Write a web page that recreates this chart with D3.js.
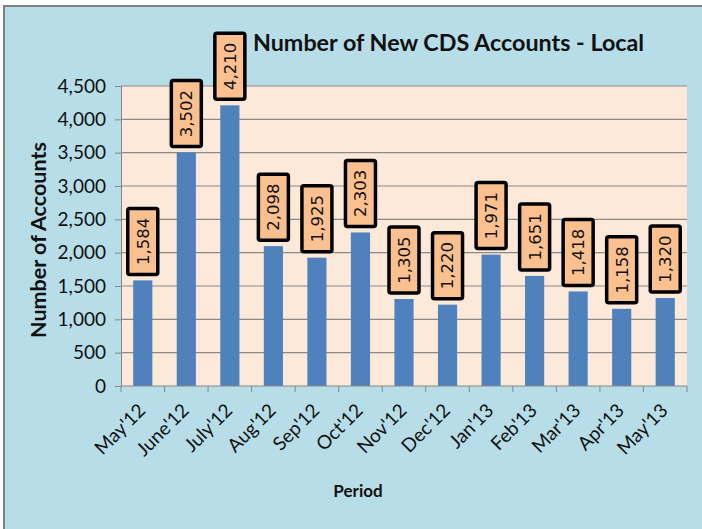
<!DOCTYPE html>
<html>
<head>
<meta charset="utf-8">
<style>
    body { margin: 0; background: #fff; }
    svg { display: block; }
    .chart text { font-family: Lato, 'Open Sans', sans-serif; fill: #111; }
    .title { font-weight: bold; font-size: 23.3px; }
    .axis-title { font-weight: bold; font-size: 17px; }
    .ylab { font-size: 21.5px; }
    .tick-label { font-size: 19px; }
    .val { font-family: 'DejaVu Sans', Verdana, sans-serif !important; font-size: 16.5px; }
</style>
</head>
<body>
<svg class="chart" width="702" height="529"></svg>

<script src="https://d3js.org/d3.v7.min.js"></script>
<script>
    // data
    let periods = ["May'12", "June'12", "July'12", "Aug'12", "Sep'12", "Oct'12", "Nov'12",
                   "Dec'12", "Jan'13", "Feb'13", "Mar'13", "Apr'13", "May'13"];
    let accounts = [1584, 3502, 4210, 2098, 1925, 2303, 1305, 1220, 1971, 1651, 1418, 1158, 1320];
    let yTicks = [0, 500, 1000, 1500, 2000, 2500, 3000, 3500, 4000, 4500];

    let svg = d3.select("svg");

    // outer frame
    svg.append("rect")
        .attr("x", 4).attr("y", 6)
        .attr("width", 702).attr("height", 530)
        .style("fill", "#b7dde8")
        .style("stroke", "#808080")
        .style("stroke-width", 2);

    let plot = { left: 121, right: 687, top: 86, bottom: 386 };

    let x = d3.scaleBand()
        .domain(periods)
        .range([plot.left, plot.right])
        .paddingInner(0.56)
        .paddingOuter(0.28);

    let xSlots = d3.scaleBand()
        .domain(periods)
        .range([plot.left, plot.right]);

    let y = d3.scaleLinear()
        .domain([0, 4500])
        .range([plot.bottom, plot.top]);

    // plot background
    svg.append("rect")
        .attr("x", plot.left).attr("y", plot.top)
        .attr("width", plot.right - plot.left)
        .attr("height", plot.bottom - plot.top)
        .style("fill", "#fde9d9");

    // y ticks
    let yAxis = d3.axisLeft(y)
        .tickValues(yTicks)
        .tickSize(6)
        .tickPadding(9)
        .tickFormat(d3.format(","));

    let gy = svg.append("g")
        .attr("transform", "translate(" + plot.left + ",0)")
        .call(yAxis);
    gy.select(".domain").style("stroke", "#868686");
    gy.selectAll(".tick line").style("stroke", "#868686");
    gy.selectAll(".tick text")
        .style("font-family", "Lato, sans-serif")
        .style("font-size", "19px")
        .style("fill", "#111");

    // gridlines
    svg.append("g")
        .selectAll("line")
        .data(yTicks.filter(d => d > 0))
        .join("line")
        .attr("x1", plot.left).attr("x2", plot.right)
        .attr("y1", d => y(d)).attr("y2", d => y(d))
        .style("stroke", "#8a8a8a")
        .style("stroke-width", 1.2);

    // bars
    svg.append("g")
        .selectAll("rect")
        .data(accounts)
        .join("rect")
        .attr("x", (d, i) => x(periods[i]))
        .attr("width", x.bandwidth())
        .attr("y", d => y(d))
        .attr("height", d => y(0) - y(d))
        .style("fill", "#4f81bd");

    // x axis line + ticks at slot boundaries
    svg.append("line")
        .attr("x1", plot.left).attr("x2", plot.right)
        .attr("y1", plot.bottom).attr("y2", plot.bottom)
        .style("stroke", "#868686");

    let bounds = periods.map(p => xSlots(p)).concat([plot.right]);
    svg.append("g")
        .selectAll("line")
        .data(bounds)
        .join("line")
        .attr("x1", d => d).attr("x2", d => d)
        .attr("y1", plot.bottom).attr("y2", plot.bottom + 6)
        .style("stroke", "#868686");

    // x labels rotated
    svg.append("g")
        .selectAll("text")
        .data(periods)
        .join("text")
        .attr("class", "tick-label")
        .attr("text-anchor", "end")
        .attr("transform", d => {
            let cx = x(d) + x.bandwidth() / 2 - 1;
            return "translate(" + cx + "," + (plot.bottom + 21) + ") rotate(-45)";
        })
        .attr("dy", "0.35em")
        .text(d => d);

    // value labels in boxes
    let boxW = 30, boxH = 66;
    let labels = svg.append("g")
        .selectAll("g")
        .data(accounts)
        .join("g")
        .attr("transform", (d, i) => {
            let cx = x(periods[i]) + x.bandwidth() / 2;
            return "translate(" + cx + "," + (y(d) - 6 - boxH / 2) + ")";
        });

    labels.append("rect")
        .attr("x", -boxW / 2).attr("y", -boxH / 2)
        .attr("width", boxW).attr("height", boxH)
        .attr("rx", 2)
        .style("fill", "#fac090")
        .style("stroke", "#000")
        .style("stroke-width", 3.5);

    labels.append("text")
        .attr("class", "val")
        .attr("transform", "rotate(-90)")
        .attr("text-anchor", "middle")
        .attr("dy", "0.36em")
        .text(d => d3.format(",")(d));

    // titles
    svg.append("text")
        .attr("class", "title")
        .attr("x", 253).attr("y", 51)
        .text("Number of New CDS Accounts - Local");

    svg.append("text")
        .attr("class", "axis-title ylab")
        .attr("transform", "translate(46,240) rotate(-90)")
        .attr("text-anchor", "middle")
        .text("Number of Accounts");

    svg.append("text")
        .attr("class", "axis-title")
        .attr("x", 358).attr("y", 497)
        .attr("text-anchor", "middle")
        .text("Period");
</script>
</body>
</html>
